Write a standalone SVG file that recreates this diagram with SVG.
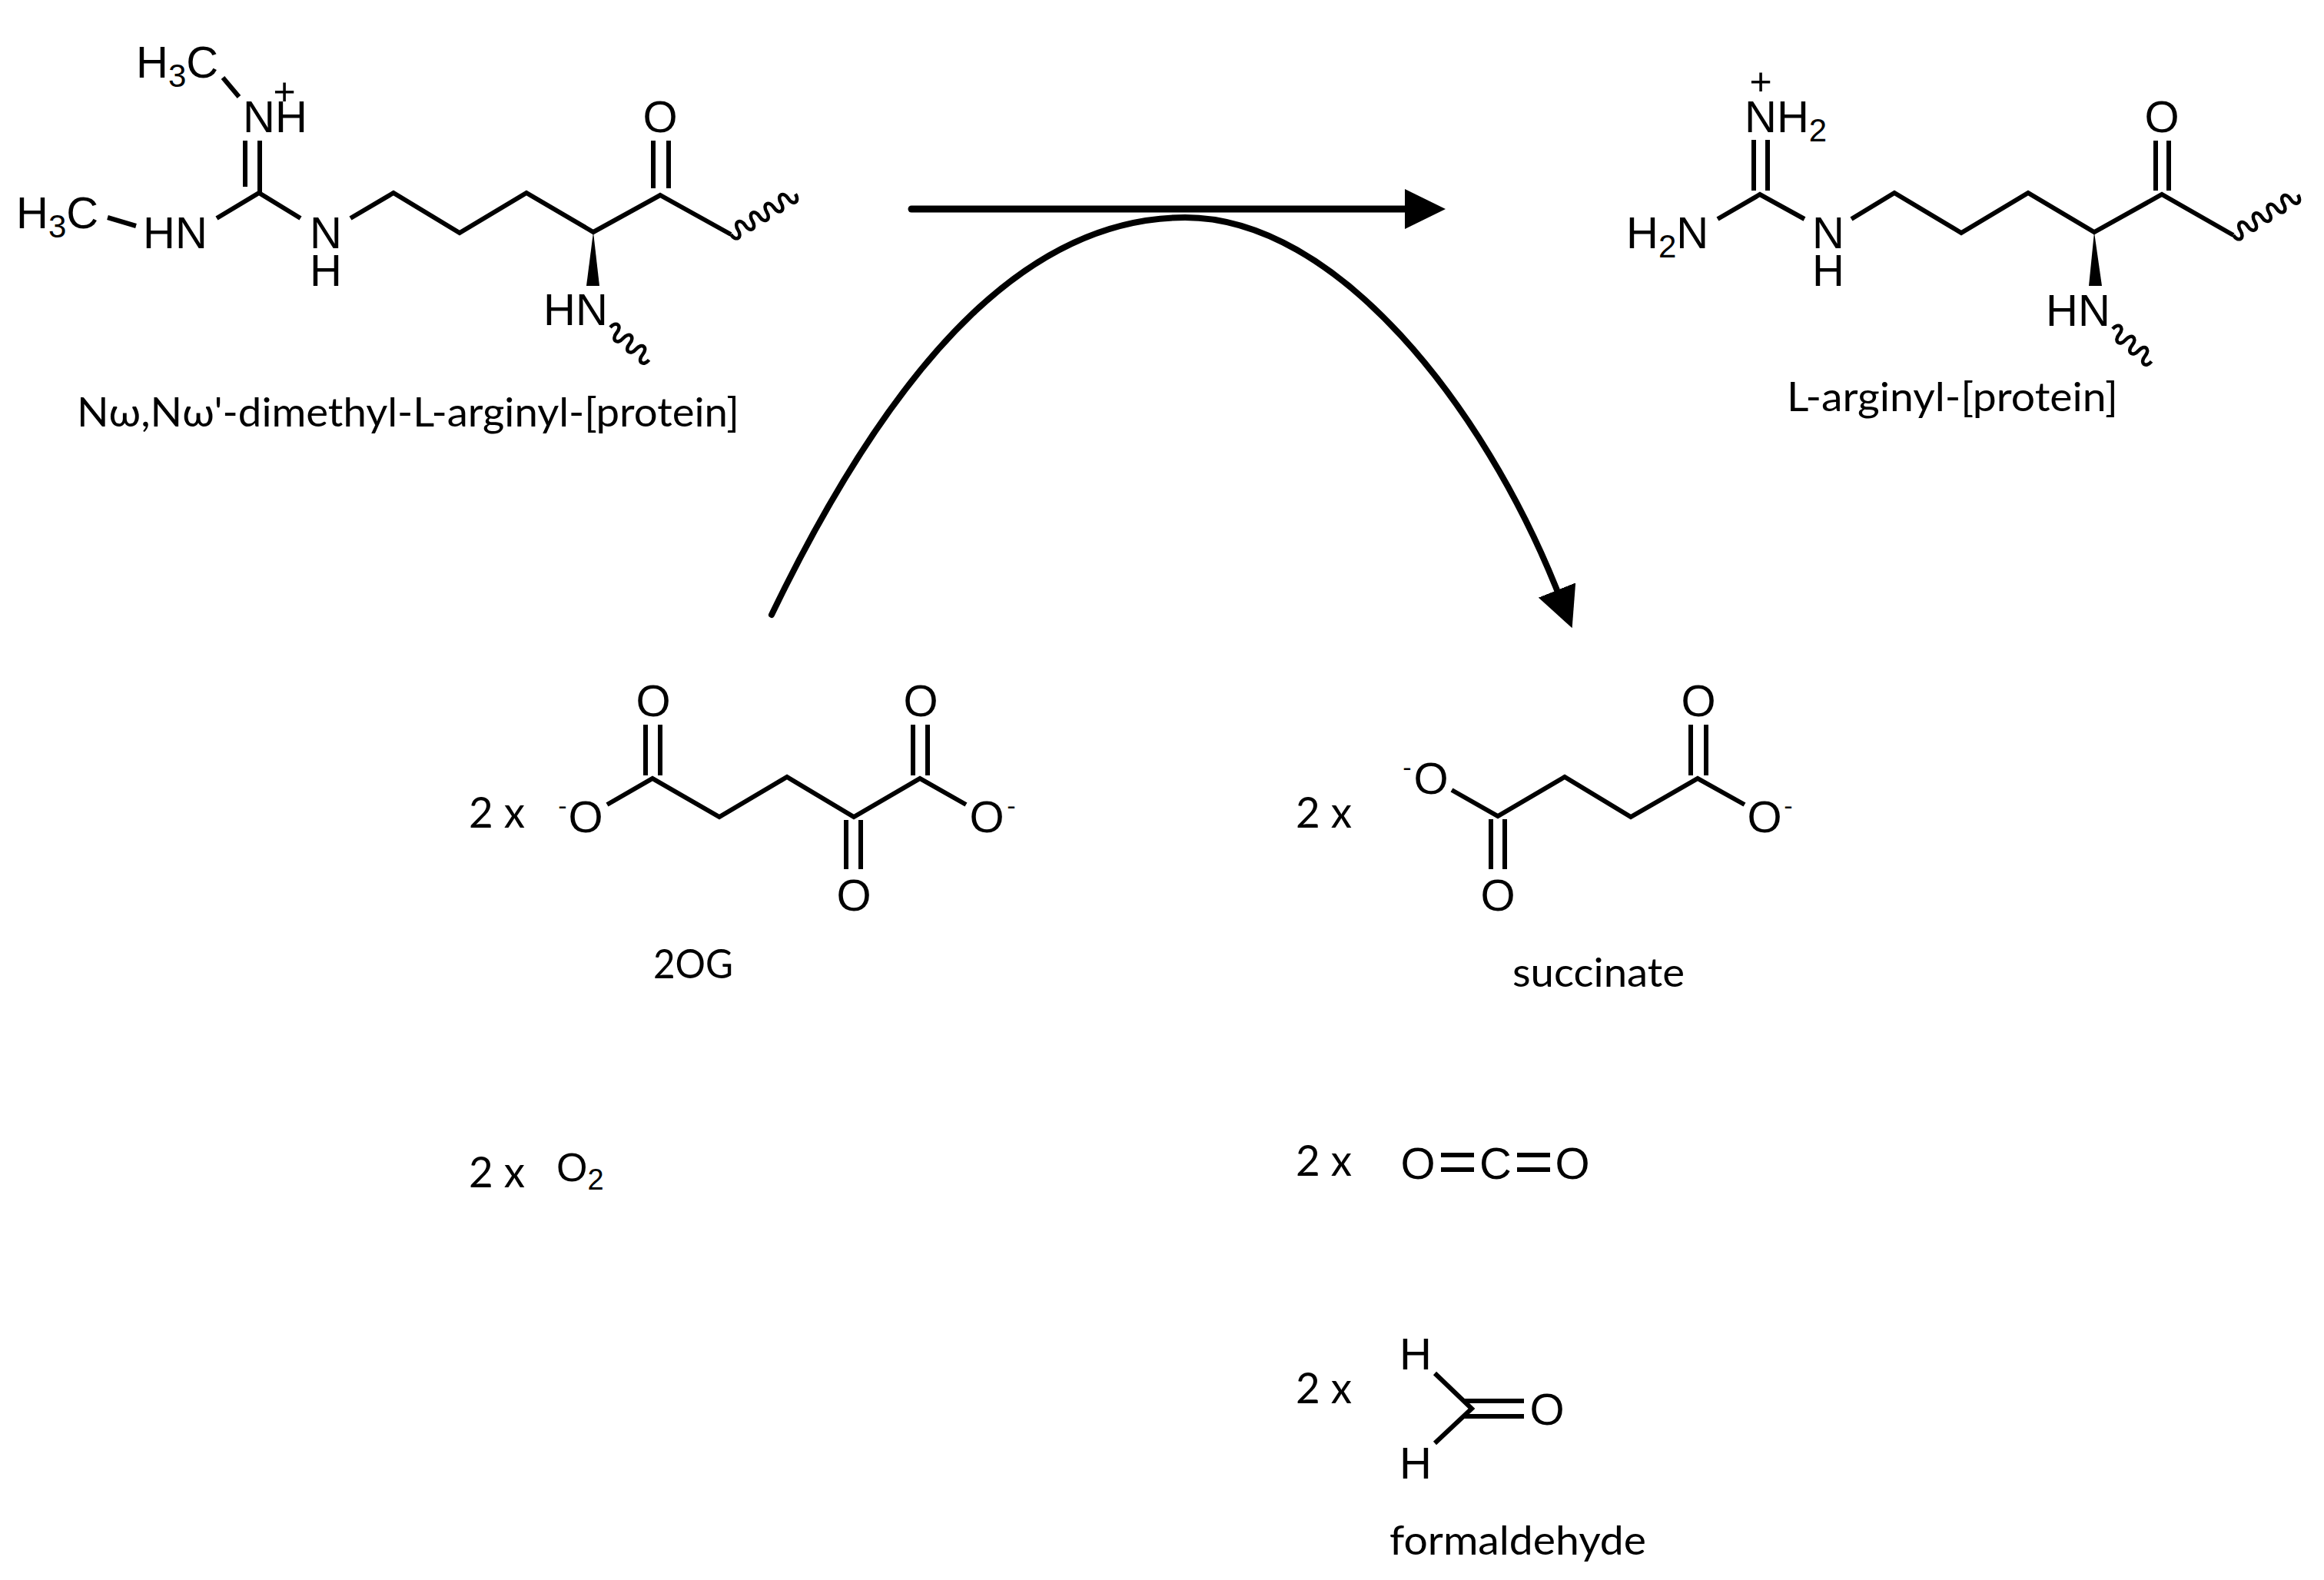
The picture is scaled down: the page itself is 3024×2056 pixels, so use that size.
<svg xmlns="http://www.w3.org/2000/svg" width="3024" height="2056" viewBox="0 0 3024 2056">
<style>
.b{fill:none;stroke:#000;stroke-width:6;stroke-linejoin:miter}
.w{fill:none;stroke:#000;stroke-width:4.5}
.a{font-family:"Liberation Sans",Arial,sans-serif;font-size:58px;fill:#000}
.m{text-anchor:middle}
.s{font-size:42px}
.h{font-size:34px}
.p{font-size:50px}
.l{font-family:Lato,"Noto Sans",sans-serif;font-size:53px;fill:#000}
.q{font-size:56px}
.c{fill:none;stroke:#000}
</style>
<defs>
<marker id="head" markerUnits="userSpaceOnUse" viewBox="0 0 53 52" refX="0" refY="26" markerWidth="53" markerHeight="52" orient="auto"><path d="M0 0L53 26L0 52Z" fill="#000"/></marker>
<path id="wave6" d="M0 0c0 -12 11 -12 11 0c0 12 11 12 11 0c0 -12 11 -12 11 0c0 12 11 12 11 0c0 -12 11 -12 11 0c0 12 11 12 11 0"/>
<path id="wave9" d="M0 0c0 12 11 12 11 0c0 -12 11 -12 11 0c0 12 11 12 11 0c0 -12 11 -12 11 0c0 12 11 12 11 0c0 -12 11 -12 11 0c0 12 11 12 11 0c0 -12 11 -12 11 0c0 12 11 12 11 0"/>
</defs>
<rect width="3024" height="2056" fill="#fff"/>
<g id="dimethylarginyl">
<path class="b" d="M282 284L337 251L391 284M456 284L512 251L598 303L685 251L772 302L859 254L951 305M319 183V243M338 183V251M850 183V245M870 183V245M140 283L177 294M290 101L311 126"/>
<path d="M772 302L763 372H780Z" fill="#000"/>
<use href="#wave9" class="w" transform="translate(951 305) rotate(-32)"/>
<use href="#wave6" class="w" transform="translate(794 426) rotate(40)"/>
<text class="a" x="177" y="101">H<tspan class="s" dy="12">3</tspan><tspan dy="-12">C</tspan></text>
<text class="a" x="21" y="297">H<tspan class="s" dy="12">3</tspan><tspan dy="-12">C</tspan></text>
<text class="a" x="316" y="172">NH</text>
<text class="a m p" x="370" y="136">+</text>
<text class="a" x="186" y="323">HN</text>
<text class="a" x="403" y="323">N</text>
<text class="a" x="403" y="372">H</text>
<text class="a m" x="859" y="172">O</text>
<text class="a" x="707" y="423">HN</text>
<text class="l" x="100" y="555" textLength="862" lengthAdjust="spacingAndGlyphs">Nω,Nω'-dimethyl-L-arginyl-[protein]</text>
</g>
<g id="arginyl">
<path class="b" d="M2235 285L2290 253L2348 285M2409 285L2465 251L2552 303L2639 251L2725 302L2813 253L2906 306M2282 182V248M2300 182V248M2805 183V248M2822 183V248"/>
<path d="M2725 302L2718 372H2735Z" fill="#000"/>
<use href="#wave9" class="w" transform="translate(2906 306) rotate(-32)"/>
<use href="#wave6" class="w" transform="translate(2749 428) rotate(40)"/>
<text class="a" x="2270" y="172">NH<tspan class="s" dy="12">2</tspan></text>
<text class="a m p" x="2291" y="123">+</text>
<text class="a" x="2116" y="323">H<tspan class="s" dy="12">2</tspan><tspan dy="-12">N</tspan></text>
<text class="a" x="2358" y="323">N</text>
<text class="a" x="2358" y="372">H</text>
<text class="a m" x="2813" y="172">O</text>
<text class="a" x="2662" y="424">HN</text>
<text class="l" x="2325" y="535" textLength="431" lengthAdjust="spacingAndGlyphs">L-arginyl-[protein]</text>
</g>
<g id="oxoglutarate">
<text class="l q" x="610" y="1077" textLength="73" lengthAdjust="spacingAndGlyphs">2 x</text>
<path class="b" d="M790 1047L849 1013L936 1063L1024 1011L1111 1063L1197 1013L1257 1047M840 943V1009M859 943V1009M1188 943V1009M1207 943V1009M1101 1067V1131M1120 1067V1131"/>
<text class="a m" x="762" y="1083">O</text>
<text class="a h m" x="732" y="1060">-</text>
<text class="a m" x="850" y="932">O</text>
<text class="a m" x="1198" y="932">O</text>
<text class="a m" x="1111" y="1185">O</text>
<text class="a m" x="1284" y="1083">O</text>
<text class="a h m" x="1316" y="1060">-</text>
<text class="l" x="850" y="1273" textLength="104" lengthAdjust="spacingAndGlyphs">2OG</text>
</g>
<g id="dioxygen">
<text class="l q" x="610" y="1545" textLength="73" lengthAdjust="spacingAndGlyphs">2 x</text>
<text class="a" x="724" y="1537" style="font-size:52px">O<tspan dy="11" style="font-size:38px">2</tspan></text>
</g>
<g id="succinate">
<text class="l q" x="1686" y="1077" textLength="73" lengthAdjust="spacingAndGlyphs">2 x</text>
<path class="b" d="M1889 1028L1949 1062L2036 1011L2122 1063L2209 1013L2270 1047M1940 1066V1131M1958 1066V1131M2200 943V1009M2220 943V1009"/>
<text class="a m" x="1862" y="1033">O</text>
<text class="a h m" x="1831" y="1010">-</text>
<text class="a m" x="1949" y="1185">O</text>
<text class="a m" x="2210" y="932">O</text>
<text class="a m" x="2296" y="1083">O</text>
<text class="a h m" x="2327" y="1060">-</text>
<text class="l" x="1968" y="1284" textLength="224" lengthAdjust="spacingAndGlyphs">succinate</text>
</g>
<g id="carbon-dioxide">
<text class="l q" x="1686" y="1530" textLength="73" lengthAdjust="spacingAndGlyphs">2 x</text>
<path class="b" d="M1875 1503H1918M1875 1522H1918M1974 1503H2017M1974 1522H2017"/>
<text class="a m" x="1845" y="1534">O</text>
<text class="a m" x="1946" y="1534">C</text>
<text class="a m" x="2046" y="1534">O</text>
</g>
<g id="formaldehyde">
<text class="l q" x="1686" y="1826" textLength="73" lengthAdjust="spacingAndGlyphs">2 x</text>
<path class="b" d="M1867 1787L1915 1833L1867 1878M1905 1823H1983M1905 1843H1983"/>
<text class="a m" x="1842" y="1782">H</text>
<text class="a m" x="1842" y="1924">H</text>
<text class="a m" x="2013" y="1854">O</text>
<text class="l" x="1808" y="2023" textLength="334" lengthAdjust="spacingAndGlyphs">formaldehyde</text>
</g>
<g id="connectors">
<path class="c" stroke-width="9" stroke-linecap="round" marker-end="url(#head)" d="M1186 272H1828"/>
<path class="c" stroke-width="8" stroke-linecap="round" marker-end="url(#head)" d="M1004 800C1175 445 1350 283 1542 283C1740 283 1931 530 2026 768"/>
</g>
</svg>
